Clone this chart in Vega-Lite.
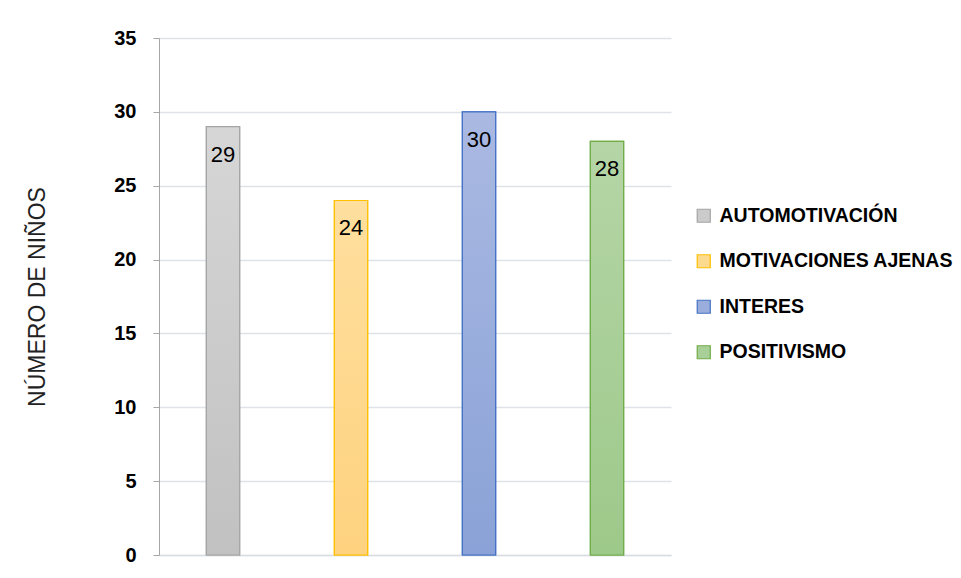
{
  "$schema": "https://vega.github.io/schema/vega-lite/v6.json",
  "autosize": "none",
  "width": 512,
  "height": 517,
  "padding": {"left": 159, "top": 38, "right": 290, "bottom": 23},
  "background": "white",
  "config": {
    "view": {"stroke": null},
    "font": "Liberation Sans"
  },
  "data": {
    "values": [
      {"categoria": "AUTOMOTIVACIÓN", "ninos": 29},
      {"categoria": "MOTIVACIONES AJENAS", "ninos": 24},
      {"categoria": "INTERES", "ninos": 30},
      {"categoria": "POSITIVISMO", "ninos": 28}
    ]
  },
  "encoding": {
    "x": {
      "field": "categoria",
      "type": "nominal",
      "sort": null,
      "scale": {"paddingInner": 0.74, "paddingOuter": 0.37},
      "axis": {"labels": false, "ticks": false, "title": null, "domainColor": "#d9dde3", "domainWidth": 1.5}
    },
    "y": {
      "field": "ninos",
      "type": "quantitative",
      "scale": {"domain": [0, 35]},
      "axis": {
        "values": [0, 5, 10, 15, 20, 25, 30, 35],
        "title": "NÚMERO DE NIÑOS",
        "titleFont": "Liberation Sans",
        "titleFontSize": 23,
        "titleFontWeight": "normal",
        "titleColor": "#222222",
        "titleX": -110,
        "labelFont": "Liberation Sans",
        "labelFontSize": 20,
        "labelFontWeight": "bold",
        "labelColor": "#000000",
        "labelPadding": 17,
        "tickSize": 6,
        "tickColor": "#a6a6a6",
        "domainColor": "#a6a6a6",
        "gridColor": "#dfe2e7",
        "gridWidth": 1.3
      }
    }
  },
  "layer": [
    {
      "mark": {"type": "bar", "strokeWidth": 1.2},
      "encoding": {
        "fill": {
          "field": "categoria",
          "type": "nominal",
          "sort": null,
          "scale": {
            "domain": ["AUTOMOTIVACIÓN", "MOTIVACIONES AJENAS", "INTERES", "POSITIVISMO"],
            "range": ["#cbcbcb", "#feda8f", "#9aaedd", "#a9cf98"]
          },
          "legend": {
            "orient": "none",
            "legendX": 535,
            "legendY": 168,
            "title": null,
            "symbolType": "square",
            "symbolSize": 170,
            "symbolStrokeWidth": 1.2,
            "labelFont": "Liberation Sans",
            "labelFontSize": 19.5,
            "labelFontWeight": "bold",
            "labelColor": "#000000",
            "labelOffset": 6,
            "rowPadding": 24.5,
            "labelLimit": 300
          }
        },
        "stroke": {
          "field": "categoria",
          "type": "nominal",
          "sort": null,
          "scale": {
            "domain": ["AUTOMOTIVACIÓN", "MOTIVACIONES AJENAS", "INTERES", "POSITIVISMO"],
            "range": ["#a5a5a5", "#ffc000", "#4472c4", "#70ad47"]
          }
        }
      }
    },
    {
      "mark": {"type": "bar", "strokeWidth": 1.2},
      "encoding": {
        "fill": {
          "condition": [
            {"test": "datum.categoria === 'AUTOMOTIVACIÓN'", "value": {"gradient": "linear", "x1": 0, "y1": 0, "x2": 0, "y2": 1, "stops": [{"offset": 0, "color": "#d6d6d6"}, {"offset": 1, "color": "#c1c1c1"}]}},
            {"test": "datum.categoria === 'MOTIVACIONES AJENAS'", "value": {"gradient": "linear", "x1": 0, "y1": 0, "x2": 0, "y2": 1, "stops": [{"offset": 0, "color": "#ffdf9e"}, {"offset": 1, "color": "#fed27f"}]}},
            {"test": "datum.categoria === 'INTERES'", "value": {"gradient": "linear", "x1": 0, "y1": 0, "x2": 0, "y2": 1, "stops": [{"offset": 0, "color": "#aab9e2"}, {"offset": 1, "color": "#8aa2d7"}]}}
          ],
          "value": {"gradient": "linear", "x1": 0, "y1": 0, "x2": 0, "y2": 1, "stops": [{"offset": 0, "color": "#b5d5a6"}, {"offset": 1, "color": "#9dc98a"}]}
        },
        "stroke": {
          "field": "categoria",
          "type": "nominal",
          "sort": null,
          "legend": null
        }
      }
    },
    {
      "mark": {"type": "text", "baseline": "top", "dy": 18, "fontSize": 22, "font": "Liberation Sans", "color": "#000000"},
      "encoding": {
        "text": {"field": "ninos", "type": "quantitative"}
      }
    }
  ]
}
